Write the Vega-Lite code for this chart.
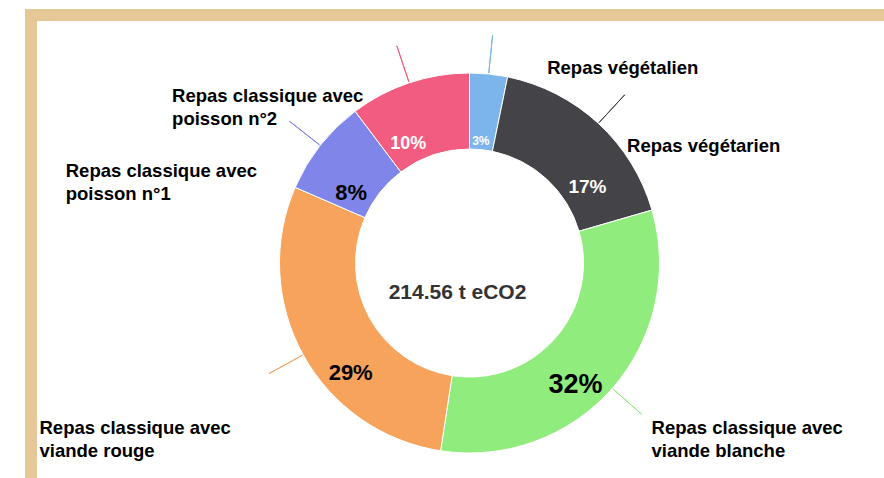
{
  "$schema": "https://vega.github.io/schema/vega-lite/v6.json",
  "autosize": "none",
  "width": 877,
  "height": 496,
  "padding": {"left": 31, "top": 15, "right": -24, "bottom": -33},
  "background": "white",
  "view": {"stroke": "#e6c797", "strokeWidth": 12, "fill": "white"},
  "config": {
    "view": {"stroke": "#e6c797", "strokeWidth": 12, "fill": "white"},
    "text": {"font": "Liberation Sans", "fontWeight": "bold"}
  },
  "data": {
    "values": [
      {"cat": "Repas végétalien", "value": 6.9, "ord": 1, "pct": "3%", "label": "Repas végétalien"},
      {"cat": "Repas végétarien", "value": 37.1, "ord": 2, "pct": "17%", "label": "Repas végétarien"},
      {"cat": "Repas classique avec viande blanche", "value": 68.5, "ord": 3, "pct": "32%", "label": "Repas classique avec\nviande blanche"},
      {"cat": "Repas classique avec viande rouge", "value": 62.4, "ord": 4, "pct": "29%", "label": "Repas classique avec\nviande rouge"},
      {"cat": "Repas classique avec poisson n°1", "value": 17.6, "ord": 5, "pct": "8%", "label": "Repas classique avec\npoisson n°1"},
      {"cat": "Repas classique avec poisson n°2", "value": 22.06, "ord": 6, "pct": "10%", "label": "Repas classique avec\npoisson n°2"}
    ]
  },
  "layer": [
    {
      "mark": {"type": "arc", "innerRadius": 114, "outerRadius": 190, "stroke": "white", "strokeWidth": 1},
      "encoding": {
        "theta": {"field": "value", "type": "quantitative", "stack": true},
        "order": {"field": "ord", "type": "quantitative"},
        "color": {"field": "cat", "type": "nominal", "legend": null,
          "scale": {"domain": ["Repas végétalien", "Repas végétarien", "Repas classique avec viande blanche", "Repas classique avec viande rouge", "Repas classique avec poisson n°1", "Repas classique avec poisson n°2"],
                    "range": ["#7cb5ec", "#434348", "#90ed7d", "#f7a35c", "#8085e9", "#f15c80"]}}
      }
    },
    {
      "mark": {"type": "arc", "innerRadius": 191, "outerRadius": 229, "padAngle": 2, "filled": false, "strokeWidth": 1},
      "encoding": {
        "theta": {"field": "value", "type": "quantitative", "stack": true},
        "order": {"field": "ord", "type": "quantitative"},
        "color": {"field": "cat", "type": "nominal", "legend": null}
      }
    },
    {
      "mark": {"type": "text", "radius": 122, "dx": -1, "dy": -1, "fontSize": 12, "fill": "white", "align": "center", "baseline": "middle"},
      "encoding": {
        "theta": {"field": "value", "type": "quantitative", "stack": true},
        "order": {"field": "ord", "type": "quantitative"},
        "detail": {"field": "cat", "type": "nominal"},
        "text": {"condition": {"test": "datum.ord == 1", "field": "pct"}, "value": ""}
      }
    },
    {
      "mark": {"type": "text", "radius": 140, "dx": 23, "dy": 27, "fontSize": 19, "fill": "white", "align": "center", "baseline": "middle"},
      "encoding": {
        "theta": {"field": "value", "type": "quantitative", "stack": true},
        "order": {"field": "ord", "type": "quantitative"},
        "detail": {"field": "cat", "type": "nominal"},
        "text": {"condition": {"test": "datum.ord == 2", "field": "pct"}, "value": ""}
      }
    },
    {
      "mark": {"type": "text", "radius": 161, "dx": -15, "dy": 16, "fontSize": 27, "fill": "black", "align": "center", "baseline": "middle"},
      "encoding": {
        "theta": {"field": "value", "type": "quantitative", "stack": true},
        "order": {"field": "ord", "type": "quantitative"},
        "detail": {"field": "cat", "type": "nominal"},
        "text": {"condition": {"test": "datum.ord == 3", "field": "pct"}, "value": ""}
      }
    },
    {
      "mark": {"type": "text", "radius": 162, "dx": 23, "dy": 32, "fontSize": 22, "fill": "black", "align": "center", "baseline": "middle"},
      "encoding": {
        "theta": {"field": "value", "type": "quantitative", "stack": true},
        "order": {"field": "ord", "type": "quantitative"},
        "detail": {"field": "cat", "type": "nominal"},
        "text": {"condition": {"test": "datum.ord == 4", "field": "pct"}, "value": ""}
      }
    },
    {
      "mark": {"type": "text", "radius": 138, "dx": -10, "dy": 15, "fontSize": 22, "fill": "black", "align": "center", "baseline": "middle"},
      "encoding": {
        "theta": {"field": "value", "type": "quantitative", "stack": true},
        "order": {"field": "ord", "type": "quantitative"},
        "detail": {"field": "cat", "type": "nominal"},
        "text": {"condition": {"test": "datum.ord == 5", "field": "pct"}, "value": ""}
      }
    },
    {
      "mark": {"type": "text", "radius": 133, "dx": -19, "dy": 7, "fontSize": 18, "fill": "white", "align": "center", "baseline": "middle"},
      "encoding": {
        "theta": {"field": "value", "type": "quantitative", "stack": true},
        "order": {"field": "ord", "type": "quantitative"},
        "detail": {"field": "cat", "type": "nominal"},
        "text": {"condition": {"test": "datum.ord == 6", "field": "pct"}, "value": ""}
      }
    },
    {
      "mark": {"type": "text", "radius": 225, "dx": 55, "dy": 35, "fontSize": 18.5, "lineHeight": 23.5, "lineBreak": "\n", "fill": "black", "align": "left", "baseline": "alphabetic"},
      "encoding": {
        "theta": {"field": "value", "type": "quantitative", "stack": true},
        "order": {"field": "ord", "type": "quantitative"},
        "detail": {"field": "cat", "type": "nominal"},
        "text": {"condition": {"test": "datum.ord == 1", "field": "label"}, "value": ""}
      }
    },
    {
      "mark": {"type": "text", "radius": 225, "dx": 5, "dy": 54, "fontSize": 18.5, "lineHeight": 23.5, "lineBreak": "\n", "fill": "black", "align": "left", "baseline": "alphabetic"},
      "encoding": {
        "theta": {"field": "value", "type": "quantitative", "stack": true},
        "order": {"field": "ord", "type": "quantitative"},
        "detail": {"field": "cat", "type": "nominal"},
        "text": {"condition": {"test": "datum.ord == 2", "field": "label"}, "value": ""}
      }
    },
    {
      "mark": {"type": "text", "radius": 225, "dx": 13, "dy": 22.5, "fontSize": 18.5, "lineHeight": 23.5, "lineBreak": "\n", "fill": "black", "align": "left", "baseline": "alphabetic"},
      "encoding": {
        "theta": {"field": "value", "type": "quantitative", "stack": true},
        "order": {"field": "ord", "type": "quantitative"},
        "detail": {"field": "cat", "type": "nominal"},
        "text": {"condition": {"test": "datum.ord == 3", "field": "label"}, "value": ""}
      }
    },
    {
      "mark": {"type": "text", "radius": 225, "dx": -233, "dy": 62, "fontSize": 18.5, "lineHeight": 23.5, "lineBreak": "\n", "fill": "black", "align": "left", "baseline": "alphabetic"},
      "encoding": {
        "theta": {"field": "value", "type": "quantitative", "stack": true},
        "order": {"field": "ord", "type": "quantitative"},
        "detail": {"field": "cat", "type": "nominal"},
        "text": {"condition": {"test": "datum.ord == 4", "field": "label"}, "value": ""}
      }
    },
    {
      "mark": {"type": "text", "radius": 225, "dx": -227, "dy": 53, "fontSize": 18.5, "lineHeight": 23.5, "lineBreak": "\n", "fill": "black", "align": "left", "baseline": "alphabetic"},
      "encoding": {
        "theta": {"field": "value", "type": "quantitative", "stack": true},
        "order": {"field": "ord", "type": "quantitative"},
        "detail": {"field": "cat", "type": "nominal"},
        "text": {"condition": {"test": "datum.ord == 5", "field": "label"}, "value": ""}
      }
    },
    {
      "mark": {"type": "text", "radius": 225, "dx": -226, "dy": 52, "fontSize": 18.5, "lineHeight": 23.5, "lineBreak": "\n", "fill": "black", "align": "left", "baseline": "alphabetic"},
      "encoding": {
        "theta": {"field": "value", "type": "quantitative", "stack": true},
        "order": {"field": "ord", "type": "quantitative"},
        "detail": {"field": "cat", "type": "nominal"},
        "text": {"condition": {"test": "datum.ord == 6", "field": "label"}, "value": ""}
      }
    },
    {
      "data": {"values": [{"total": "214.56 t eCO2"}]},
      "mark": {"type": "text", "dx": -12, "dy": 30, "fontSize": 21, "fill": "#333333", "align": "center", "baseline": "middle"},
      "encoding": {"text": {"field": "total", "type": "nominal"}}
    }
  ]
}
